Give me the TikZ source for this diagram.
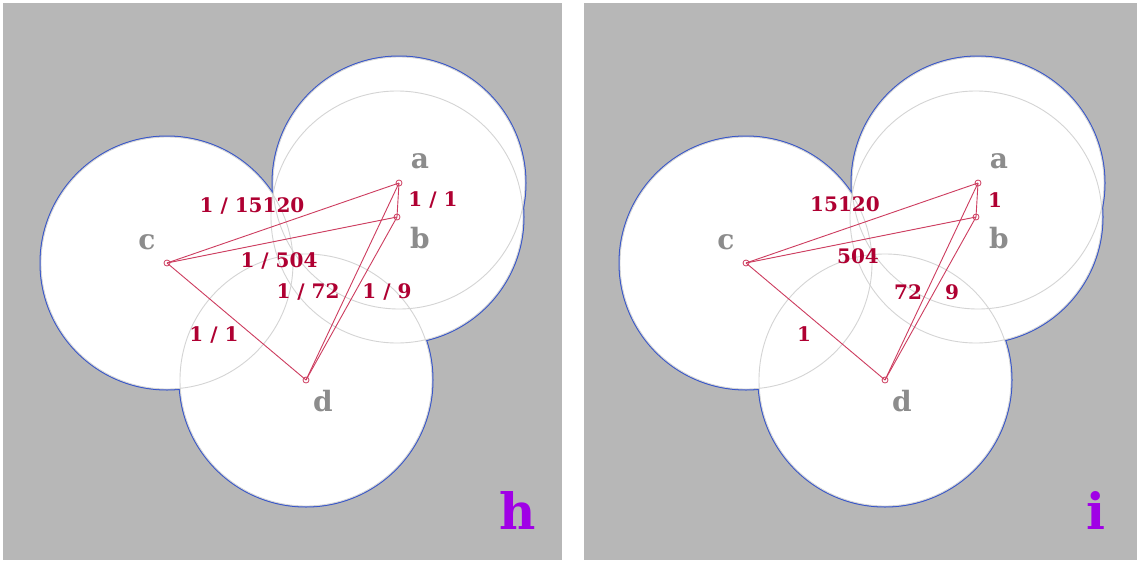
\documentclass[tikz,border=0pt]{standalone}
\usepackage{fontspec}
\setmainfont{DejaVu Serif}
\definecolor{panelgray}{RGB}{183,183,183}
\definecolor{ringblue}{RGB}{55,85,200}
\definecolor{ringgray}{RGB}{212,212,212}
\definecolor{edgered}{RGB}{205,60,95}
\definecolor{numred}{RGB}{175,0,50}
\definecolor{lblgray}{RGB}{140,140,140}
\definecolor{tagpurple}{RGB}{160,0,230}
\tikzset{
  panel/.style={fill=panelgray, draw=none},
  ringout/.style={draw=ringblue, line width=3pt},
  ringfill/.style={fill=white, draw=none},
  ringline/.style={draw=ringgray, line width=0.9pt},
  vtx/.style={circle, draw=edgered, fill=none, inner sep=0pt, minimum size=6pt, line width=0.8pt},
  edge/.style={draw=edgered, line width=0.9pt},
  num/.style={text=numred, font=\fontsize{20}{22}\selectfont\bfseries, inner sep=0pt},
  ptlbl/.style={text=lblgray, font=\fontsize{28}{30}\selectfont\bfseries, inner sep=0pt},
  tag/.style={text=tagpurple, font=\fontsize{50}{52}\selectfont\bfseries, inner sep=0pt}
}
\begin{document}
\begin{tikzpicture}[x=1pt, y=-1pt]
\useasboundingbox (0,0) rectangle (1138,560);
\fill[white] (0,0) rectangle (1138,560);
\path[panel] (3,3) rectangle (562,560);
\path[panel] (584,3) rectangle (1137,560);
% ---------- left panel h ----------
\begin{scope}
  \foreach \p in {(399,183),(397,217),(167,263),(306,380)} {\path[ringout] \p circle (126);}
  \foreach \p in {(399,183),(397,217),(167,263),(306,380)} {\path[ringfill] \p circle (126);}
  \foreach \p in {(399,183),(397,217),(167,263),(306,380)} {\path[ringline] \p circle (126);}
  \node[vtx] (ha) at (399,183) {};
  \node[vtx] (hb) at (397,217) {};
  \node[vtx] (hc) at (167,263) {};
  \node[vtx] (hd) at (306,380) {};
  \draw[edge] (hc.center) -- (ha.center);
  \draw[edge] (hc.center) -- (hb.center);
  \draw[edge] (hc.center) -- (hd.center);
  \draw[edge] (ha.center) -- (hb.center);
  \draw[edge] (ha.center) -- (hd.center);
  \draw[edge] (hb.center) -- (hd.center);
  \node[ptlbl] (hla) at (420,161) {a};
  \node[ptlbl] (hlb) at (420,238) {b};
  \node[ptlbl] (hlc) at (147,242) {c};
  \node[ptlbl] (hld) at (323,401) {d};
  \node[num] (hnca) at (252,206) {1 / 15120};
  \node[num] (hnab) at (433,200) {1 / 1};
  \node[num] (hncb) at (279,261) {1 / 504};
  \node[num] (hnad) at (308,292) {1 / 72};
  \node[num] (hnbd) at (387,292) {1 / 9};
  \node[num] (hncd) at (214,335) {1 / 1};
  \node[tag] (htag) at (518,510) {h};
\end{scope}
% ---------- right panel i ----------
\begin{scope}[xshift=579pt]
  \foreach \p in {(399,183),(397,217),(167,263),(306,380)} {\path[ringout] \p circle (126);}
  \foreach \p in {(399,183),(397,217),(167,263),(306,380)} {\path[ringfill] \p circle (126);}
  \foreach \p in {(399,183),(397,217),(167,263),(306,380)} {\path[ringline] \p circle (126);}
  \node[vtx] (ia) at (399,183) {};
  \node[vtx] (ib) at (397,217) {};
  \node[vtx] (ic) at (167,263) {};
  \node[vtx] (id) at (306,380) {};
  \draw[edge] (ic.center) -- (ia.center);
  \draw[edge] (ic.center) -- (ib.center);
  \draw[edge] (ic.center) -- (id.center);
  \draw[edge] (ia.center) -- (ib.center);
  \draw[edge] (ia.center) -- (id.center);
  \draw[edge] (ib.center) -- (id.center);
  \node[ptlbl] (ila) at (420,161) {a};
  \node[ptlbl] (ilb) at (420,238) {b};
  \node[ptlbl] (ilc) at (147,242) {c};
  \node[ptlbl] (ild) at (323,401) {d};
  \node[num] (inca) at (266,204) {15120};
  \node[num] (inab) at (416,200) {1};
  \node[num] (incb) at (279,256) {504};
  \node[num] (inad) at (329,292) {72};
  \node[num] (inbd) at (373,292) {9};
  \node[num] (incd) at (225,334) {1};
  \node[tag] (itag) at (517,510) {i};
\end{scope}
\end{tikzpicture}
\end{document}
